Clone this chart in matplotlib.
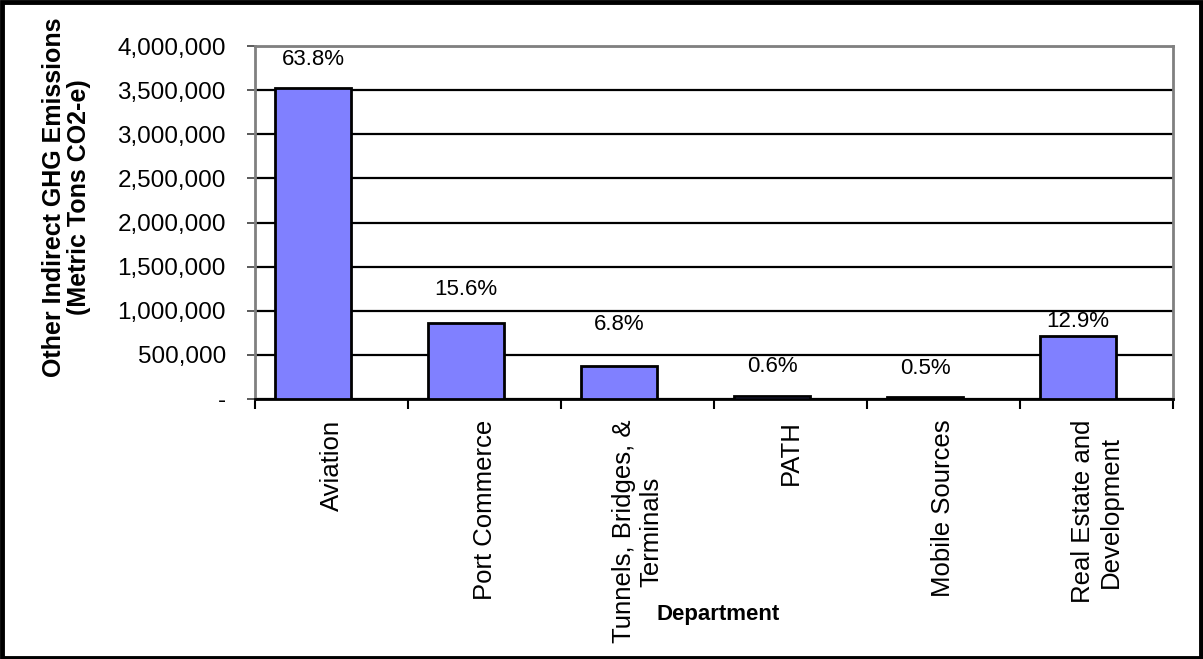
import matplotlib
matplotlib.use("Agg")
import matplotlib.pyplot as plt
from matplotlib.patches import Rectangle
from matplotlib.ticker import FuncFormatter, FixedLocator

# Other indirect GHG emissions by department
departments = ["Aviation", "Port Commerce", "Tunnels, Bridges, &\nTerminals",
               "PATH", "Mobile Sources", "Real Estate and\nDevelopment"]
emissions = [3525000, 862000, 375000, 33000, 28000, 712000]
shares = ["63.8%", "15.6%", "6.8%", "0.6%", "0.5%", "12.9%"]

# gap between bar top and its percent label, in pixels
label_gaps = [28, 33, 41, 30, 28, 15]

plt.rcParams['font.family'] = ['Liberation Sans', 'DejaVu Sans']

fig = plt.figure(figsize=(12.03, 6.59), dpi=100)
ax = fig.add_axes([255 / 1203, 1 - 399 / 659, 918 / 1203, 353 / 659])

xpos = [i - 0.12 for i in range(len(departments))]
bars = ax.bar(xpos, emissions, width=0.5, color='#8080ff',
              edgecolor='black', linewidth=2, zorder=3)

for bar, txt, gap in zip(bars, shares, label_gaps):
    ax.annotate(txt, (bar.get_x() + bar.get_width() / 2, bar.get_height()),
                xytext=(0, gap * 0.72), textcoords='offset points',
                ha='center', va='center', fontsize=16)

ax.set_xlim(-0.5, len(departments) - 0.5)
ax.set_ylim(0, 4000000)
ax.set_yticks(range(0, 4000001, 500000))
ax.yaxis.set_major_formatter(FuncFormatter(lambda v, p: '-' if v == 0 else f'{v:,.0f}'))
ax.tick_params(axis='y', direction='out', length=6, width=1.2, color='#404040',
               labelsize=17.5, pad=15)

ax.set_xticks(range(len(departments)))
ax.set_xticklabels(departments, rotation=90, ha='center', va='top',
                   multialignment='center', fontsize=18.5)
ax.xaxis.set_minor_locator(FixedLocator([i - 0.5 for i in range(len(departments) + 1)]))
ax.tick_params(axis='x', which='major', length=0, pad=15)
ax.tick_params(axis='x', which='minor', direction='out', length=7, width=1.5, color='black')

ax.grid(axis='y', color='black', linewidth=1.6, zorder=1)
ax.set_axisbelow(True)
for side in ['left', 'top', 'right']:
    ax.spines[side].set_color('#808080')
    ax.spines[side].set_linewidth(2)
ax.spines['bottom'].set_color('black')
ax.spines['bottom'].set_linewidth(2)

ax.set_ylabel("Other Indirect GHG Emissions\n(Metric Tons CO2-e)",
              fontsize=18, fontweight='bold', linespacing=1.05)
ax.yaxis.label.set_va('center')
ax.yaxis.set_label_coords(-0.205, 0.572)

ax.set_xlabel("Department", fontsize=16, fontweight='bold')
ax.xaxis.set_label_coords(0.505, -0.58)
ax.xaxis.label.set_va('top')

# frame around the whole chart
fig.patches.append(Rectangle((0.0015, 0.002), 0.997, 0.995, transform=fig.transFigure,
                             fill=False, edgecolor='black', linewidth=3.5))

fig.savefig("out.png", dpi=100)
